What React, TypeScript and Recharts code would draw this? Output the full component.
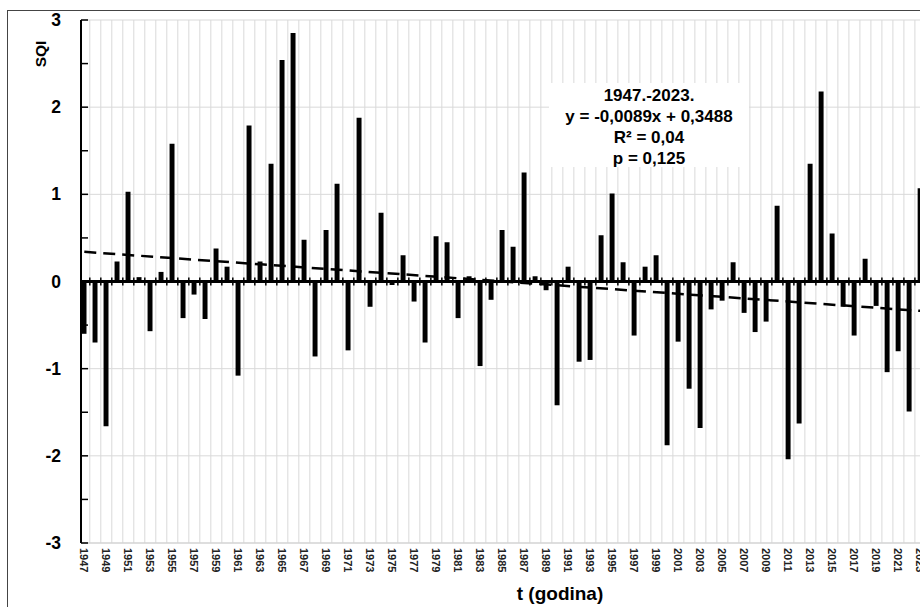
import React from 'react';
import { ComposedChart, Bar, Scatter, XAxis, YAxis, CartesianGrid, ReferenceLine, Label } from 'recharts';

const years = [
  1947, 1948, 1949, 1950, 1951, 1952, 1953, 1954, 1955, 1956,
  1957, 1958, 1959, 1960, 1961, 1962, 1963, 1964, 1965, 1966,
  1967, 1968, 1969, 1970, 1971, 1972, 1973, 1974, 1975, 1976,
  1977, 1978, 1979, 1980, 1981, 1982, 1983, 1984, 1985, 1986,
  1987, 1988, 1989, 1990, 1991, 1992, 1993, 1994, 1995, 1996,
  1997, 1998, 1999, 2000, 2001, 2002, 2003, 2004, 2005, 2006,
  2007, 2008, 2009, 2010, 2011, 2012, 2013, 2014, 2015, 2016,
  2017, 2018, 2019, 2020, 2021, 2022, 2023,
];

const sqi = [
  -0.6, -0.7, -1.66, 0.23, 1.03, 0.05, -0.57, 0.11, 1.58, -0.42,
  -0.15, -0.43, 0.38, 0.17, -1.08, 1.79, 0.23, 1.35, 2.54, 2.85,
  0.48, -0.86, 0.59, 1.12, -0.79, 1.88, -0.29, 0.79, -0.04, 0.3,
  -0.23, -0.7, 0.52, 0.45, -0.42, 0.06, -0.97, -0.21, 0.59, 0.4,
  1.25, 0.06, -0.1, -1.42, 0.17, -0.92, -0.9, 0.53, 1.01, 0.22,
  -0.62, 0.17, 0.3, -1.88, -0.69, -1.23, -1.68, -0.32, -0.22, 0.22,
  -0.36, -0.58, -0.46, 0.87, -2.04, -1.63, 1.35, 2.18, 0.55, -0.29,
  -0.62, 0.26, -0.28, -1.04, -0.8, -1.49, 1.07,
];

// trend y = -0,0089x + 0,3488 read at first and last year
const trendStart = 0.34;
const trendEnd = -0.337;

const yTicks = [-3, -2.5, -2, -1.5, -1, -0.5, 0, 0.5, 1, 1.5, 2, 2.5, 3];
const yGrid = [-3, -2, -1, 0, 1, 2, 3];
const xLabelYears = years.filter((_, i) => i % 2 === 0);
const edges = years.slice(0, -1).map((y) => y + 0.5);

const statLines = ['1947.-2023.', 'y = -0,0089x + 0,3488', 'R² = 0,04', 'p = 0,125'];

const data = years.map((year, i) => ({ year, sqi: sqi[i] }));
const zeroTicks = edges.map((year) => ({ year, mark: 0 }));

const FONT = '"Liberation Sans", Arial, sans-serif';

const YearTick = ({ x, y, payload }: any) => (
  <text
    x={x}
    y={y}
    transform={`rotate(90 ${x} ${y})`}
    textAnchor="start"
    dominantBaseline="central"
    fontSize={11}
    fontWeight="bold"
    fontFamily={FONT}
    fill="#222"
  >
    {payload.value}
  </text>
);

const SqiTick = ({ x, y, payload }: any) => {
  const axisX = x + 20;
  const major = Number.isInteger(payload.value);
  return (
    <g>
      <line x1={axisX} x2={axisX + 7} y1={y} y2={y} stroke="#000" strokeWidth={1.5} />
      {major && (
        <text x={x} y={y} textAnchor="end" dominantBaseline="central" fontSize={17.5} fontWeight="bold" fontFamily={FONT} fill="#000">
          {payload.value}
        </text>
      )}
    </g>
  );
};

const ZeroMark = ({ cx, cy }: any) => (
  <line x1={cx} x2={cx} y1={cy - 4} y2={cy + 4} stroke="#000" strokeWidth={1.5} />
);

export default function App() {
  return (
    <div
      style={{
        position: 'fixed',
        left: 7,
        top: 10,
        width: 913,
        height: 597,
        borderTop: '1px solid #444',
        borderLeft: '1px solid #444',
        boxSizing: 'border-box',
        overflow: 'hidden',
        background: '#fff',
      }}
    >
      <ComposedChart width={922} height={596} data={data} margin={{ top: 9, right: 3, bottom: 0, left: 0 }}>
        <CartesianGrid stroke="#d9d9d9" verticalValues={edges} horizontalValues={yGrid} />
        <XAxis
          dataKey="year"
          type="number"
          domain={[1946.7, 2023.6]}
          allowDataOverflow
          ticks={xLabelYears}
          interval={0}
          height={64}
          tickLine={false}
          tickSize={0}
          tickMargin={5}
          axisLine={{ stroke: '#d0d0d0' }}
          tick={<YearTick />}
        >
          <Label
            content={() => (
              <text x={552} y={589} textAnchor="middle" fontSize={19} fontWeight="bold" fontFamily={FONT} fill="#000">
                t (godina)
              </text>
            )}
          />
        </XAxis>
        <YAxis
          domain={[-3, 3]}
          ticks={yTicks}
          interval={0}
          width={73}
          tickLine={false}
          tickSize={0}
          tickMargin={20}
          axisLine={{ stroke: '#000', strokeWidth: 2 }}
          tick={<SqiTick />}
        >
          <Label
            content={() => (
              <text x={32} y={43} transform="rotate(-90 32 43)" textAnchor="middle" dominantBaseline="central" fontSize={15.5} fontWeight="bold" fontFamily={FONT} fill="#000">
                SQI
              </text>
            )}
          />
        </YAxis>
        <Bar dataKey="sqi" fill="#000" barSize={6} isAnimationActive={false} />
        <ReferenceLine y={0} stroke="#000" strokeWidth={3} />
        <Scatter data={zeroTicks} dataKey="mark" shape={<ZeroMark />} isAnimationActive={false} />
        <ReferenceLine
          segment={[
            { x: 1947, y: trendStart },
            { x: 2023, y: trendEnd },
          ]}
          stroke="#000"
          strokeWidth={2.5}
          strokeDasharray="12 7"
        />
      </ComposedChart>
      <div
        style={{
          position: 'absolute',
          left: 541,
          top: 72,
          width: 200,
          height: 84,
          paddingTop: 2,
          boxSizing: 'border-box',
          background: '#fff',
          fontFamily: FONT,
          fontWeight: 'bold',
          fontSize: 17,
          lineHeight: '21px',
          textAlign: 'center',
          color: '#000',
        }}
      >
        {statLines.map((line) => (
          <div key={line}>{line}</div>
        ))}
      </div>
    </div>
  );
}
